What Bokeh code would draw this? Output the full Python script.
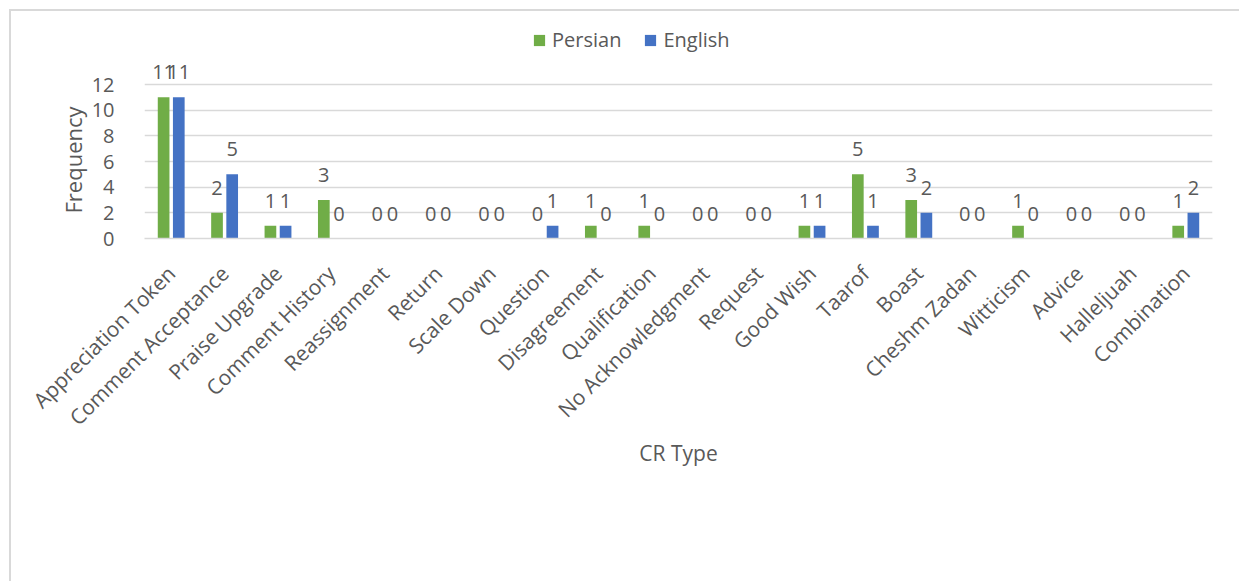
import math
from bokeh.plotting import figure
from bokeh.models import (ColumnDataSource, FactorRange, Range1d, FixedTicker,
                          LabelSet, Legend, LegendItem, Title)
from bokeh.core.properties import value
from bokeh.transform import dodge
from bokeh.embed import file_html
from bokeh.resources import INLINE

categories = ["Appreciation Token", "Comment Acceptance", "Praise Upgrade",
              "Comment History", "Reassignment", "Return", "Scale Down",
              "Question", "Disagreement", "Qualification", "No Acknowledgment",
              "Request", "Good Wish", "Taarof", "Boast", "Cheshm Zadan",
              "Witticism", "Advice", "Halleljuah", "Combination"]
persian = [11, 2, 1, 3, 0, 0, 0, 0, 1, 1, 0, 0, 1, 5, 3, 0, 1, 0, 0, 1]
english = [11, 5, 1, 0, 0, 0, 0, 1, 0, 0, 0, 0, 1, 1, 2, 0, 0, 0, 0, 2]
y_ticks = [0, 2, 4, 6, 8, 10, 12]

FONT = "Open Sans"
TXT = "#595959"
GRID = "#D9D9D9"
GREEN = "#70AD47"
BLUE = "#4472C4"

src = ColumnDataSource(dict(
    cat=categories, persian=persian, english=english,
    p_lbl=[str(v) for v in persian], e_lbl=[str(v) for v in english]))

# frame spans canvas y 20..238; value 12 sits at y=84
y_end = 12 * (238 - 20) / (238 - 84)

p = figure(width=1239, height=581,
           x_range=FactorRange(factors=categories), y_range=Range1d(0, y_end),
           output_backend="svg", toolbar_location=None,
           min_border_left=144, min_border_right=27,
           min_border_top=20, min_border_bottom=343)
p.x_range.range_padding = 0

off = 0.142
bw = 0.219
r1 = p.vbar(x=dodge("cat", -off, range=p.x_range), top="persian", width=bw,
            source=src, fill_color=GREEN, line_color=None)
r2 = p.vbar(x=dodge("cat", off, range=p.x_range), top="english", width=bw,
            source=src, fill_color=BLUE, line_color=None)

for col, lbl, o in (("persian", "p_lbl", -off), ("english", "e_lbl", off)):
    ls = LabelSet(x=dodge("cat", o, range=p.x_range), y=col, text=lbl,
                  source=src, text_align="center", text_baseline="middle",
                  y_offset=25, text_font=value(FONT), text_font_size="20px",
                  text_color=TXT)
    p.add_layout(ls)

legend = Legend(items=[LegendItem(label="Persian", renderers=[r1]),
                       LegendItem(label="English", renderers=[r2])],
                orientation="horizontal", location=(388, 185),
                glyph_width=14, glyph_height=14, label_standoff=6,
                spacing=22, padding=0, margin=0,
                label_text_font=FONT, label_text_font_size="20px",
                label_text_color=TXT, background_fill_alpha=0,
                border_line_color=None)
p.add_layout(legend)

p.yaxis.ticker = FixedTicker(ticks=y_ticks)
p.yaxis.axis_line_color = None
p.yaxis.major_tick_line_color = None
p.yaxis.minor_tick_line_color = None
p.yaxis.major_label_standoff = 24
p.yaxis.major_label_text_font_size = "20px"

ytitle = Title(text="Frequency", align="left", offset=25, standoff=2,
               text_font=FONT, text_font_size="22px", text_font_style="normal",
               text_color=TXT)
p.add_layout(ytitle, "left")

p.xaxis.major_label_orientation = math.pi / 4
p.xaxis.axis_line_color = GRID
p.xaxis.axis_line_width = 1.5
p.xaxis.major_tick_line_color = None
p.xaxis.minor_tick_line_color = None
p.xaxis.major_label_standoff = 25
p.xaxis.major_label_text_font_size = "21px"
p.xaxis.axis_label = "CR Type"
p.xaxis.axis_label_standoff = -5
p.xaxis.axis_label_text_font_size = "21px"
p.xaxis.axis_label_text_font_style = "normal"

for ax in (p.xaxis, p.yaxis):
    ax.major_label_text_font = FONT
    ax.major_label_text_color = TXT
    ax.axis_label_text_font = FONT
    ax.axis_label_text_color = TXT

p.xgrid.visible = False
p.ygrid.grid_line_color = GRID
p.ygrid.grid_line_width = 1.5
p.outline_line_color = None

# light chart-area border (left and top edges visible in the reference)
p.border_fill_color = None
p.background_fill_color = None
p.styles = {
    "background-color": "white",
    "background-image": "linear-gradient(#D9D9D9,#D9D9D9), linear-gradient(#D9D9D9,#D9D9D9)",
    "background-position": "9px 9px, 9px 9px",
    "background-size": "2px 100%, 100% 2px",
    "background-repeat": "no-repeat",
}

open("out.html", "w").write(file_html(p, INLINE))
